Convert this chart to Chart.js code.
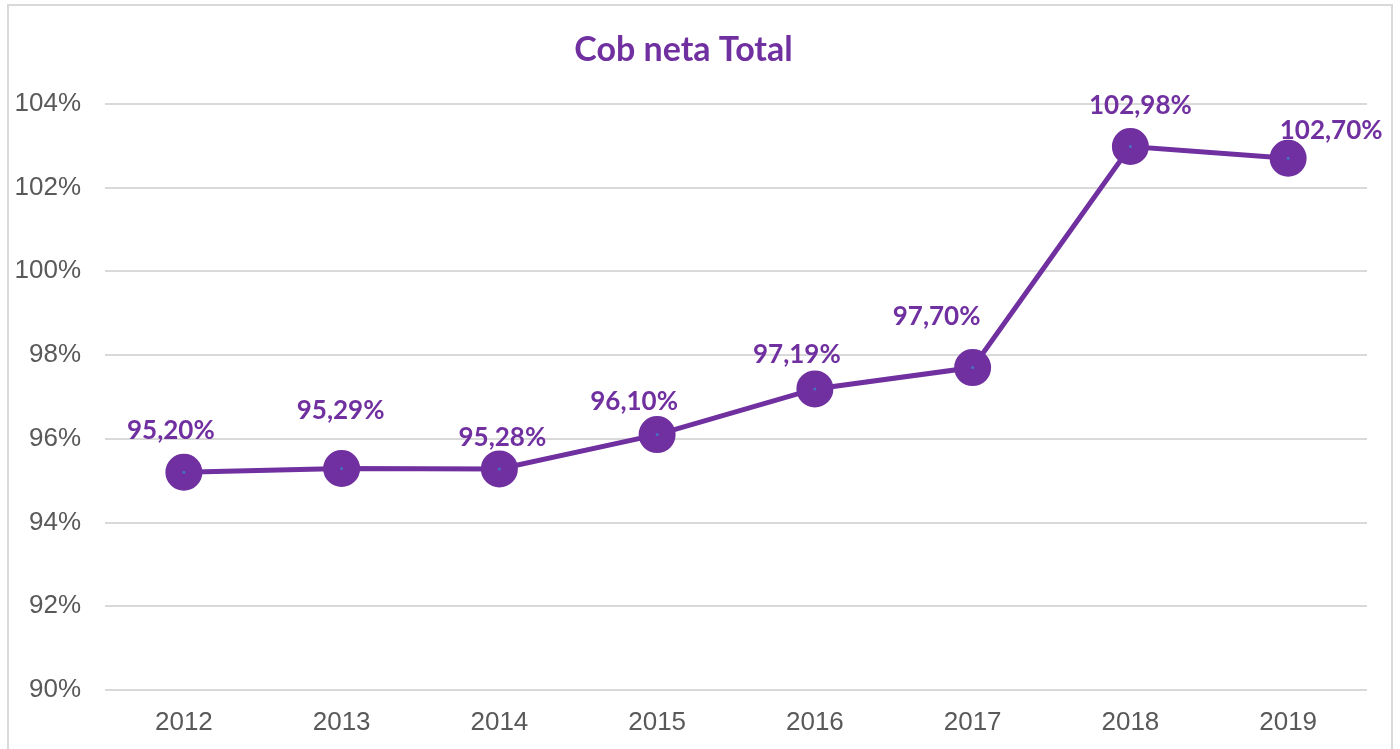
<!DOCTYPE html>
<html>
<head>
<meta charset="utf-8">
<script src="https://cdn.jsdelivr.net/npm/chart.js@4"></script>
<style>
  html, body { margin: 0; padding: 0; background: #fff; }
  #wrap { width: 1400px; height: 749px; }
</style>
</head>
<body>
<div id="wrap"><canvas id="chart" width="1400" height="749"></canvas></div>
<script>
const years = ['2012', '2013', '2014', '2015', '2016', '2017', '2018', '2019'];
const cobNeta = [95.20, 95.29, 95.28, 96.10, 97.19, 97.70, 102.98, 102.70];
const yTicks = [90, 92, 94, 96, 98, 100, 102, 104];

const purple = '#7030A0';

// label nudges, as in the source chart (px from point)
const labelShift = [[-13, -42], [-1, -58], [3, -31], [-23, -33], [-18, -34], [-36, -51], [10, -41], [43, -28]];

function pct(v) {
  return v.toFixed(2).replace('.', ',') + '%';
}

const frame = {
  id: 'frame',
  beforeDraw(chart) {
    const ctx = chart.ctx;
    ctx.save();
    ctx.strokeStyle = '#d9d9d9';
    ctx.lineWidth = 2;
    ctx.strokeRect(8, 5, 1384, 760);
    ctx.restore();
  }
};

const pointLabels = {
  id: 'pointLabels',
  afterDatasetsDraw(chart) {
    const ctx = chart.ctx;
    const meta = chart.getDatasetMeta(0);
    ctx.save();
    meta.data.forEach((pt, i) => {
      ctx.fillStyle = '#4472C4';
      ctx.beginPath();
      ctx.arc(pt.x, pt.y, 1.5, 0, Math.PI * 2);
      ctx.fill();
      ctx.fillStyle = purple;
      ctx.font = 'bold 26px Lato, "Open Sans", sans-serif';
      ctx.textAlign = 'center';
      ctx.textBaseline = 'middle';
      ctx.fillText(pct(cobNeta[i]), pt.x + labelShift[i][0], pt.y + labelShift[i][1]);
    });
    ctx.restore();
  }
};

new Chart(document.getElementById('chart'), {
  type: 'line',
  data: {
    labels: years,
    datasets: [{
      data: cobNeta,
      borderColor: purple,
      backgroundColor: purple,
      borderWidth: 5,
      pointRadius: 16,
      pointHoverRadius: 16,
      pointBackgroundColor: purple,
      pointBorderColor: purple,
      tension: 0
    }]
  },
  options: {
    responsive: false,
    animation: false,
    layout: { padding: { left: 0, right: 33, top: 0, bottom: 0 } },
    plugins: {
      legend: { display: false },
      tooltip: { enabled: false },
      title: {
        display: true,
        text: 'Cob neta Total',
        color: purple,
        font: { family: 'Lato, "Open Sans", sans-serif', size: 34, weight: 'bold' },
        padding: { top: 30, bottom: 33 }
      }
    },
    scales: {
      x: {
        offset: true,
        afterFit(s) { s.height = 59; },
        grid: { display: false },
        border: { display: false },
        ticks: { color: '#595959', font: { family: '"Liberation Sans", Arial, sans-serif', size: 26 }, padding: 9 }
      },
      y: {
        min: 90,
        max: 104,
        afterFit(s) { s.width = 105; },
        afterBuildTicks(s) { s.ticks = yTicks.map(v => ({ value: v })); },
        grid: { color: '#d9d9d9', lineWidth: 2, drawTicks: false },
        border: { display: false },
        ticks: {
          color: '#595959',
          font: { family: '"Liberation Sans", Arial, sans-serif', size: 26 },
          padding: 24,
          callback: v => v + '%'
        }
      }
    }
  },
  plugins: [frame, pointLabels]
});
</script>
</body>
</html>
